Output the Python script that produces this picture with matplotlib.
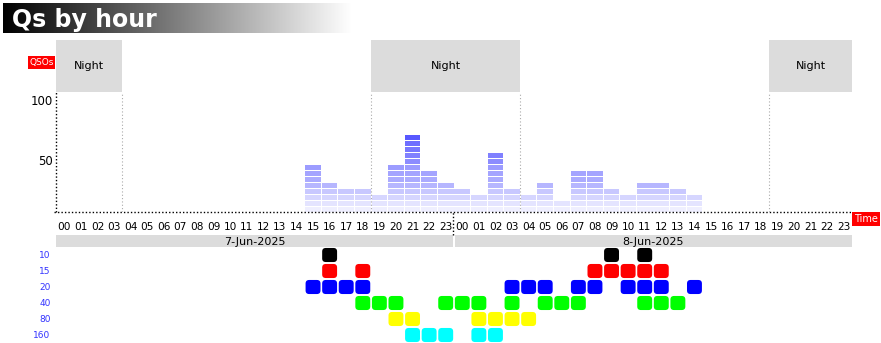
import numpy as np
import matplotlib
matplotlib.use("Agg")
import matplotlib.pyplot as plt
from matplotlib.patches import Rectangle, FancyBboxPatch
from matplotlib.transforms import ScaledTranslation

# QSOs per hour, 48 hours starting 7-Jun-2025 00:00 (counted in blocks of 5)
qsos = [0] * 15 + [40, 25, 20, 20, 15, 40, 65, 35, 25,
                   20, 15, 50, 20, 15, 25, 10, 35, 35, 20, 15, 25, 25, 20, 15] + [0] * 9
days = ["7-Jun-2025", "8-Jun-2025"]
nights = [(0, 4), (19, 28), (43, 48)]
bands = ["10", "15", "20", "40", "80", "160"]
band_colors = ["black", "red", "blue", "lime", "yellow", "cyan"]
# hours (0..47) in which each band was used
band_hours = {
    "10": [16, 33, 35],
    "15": [16, 18, 32, 33, 34, 35, 36],
    "20": [15, 16, 17, 18, 27, 28, 29, 31, 32, 34, 35, 36, 38],
    "40": [18, 19, 20, 23, 24, 25, 27, 29, 30, 31, 35, 36, 37],
    "80": [20, 21, 25, 26, 27, 28],
    "160": [21, 22, 23, 25, 26],
}
seg_colors = ["#efefff", "#e4e4ff", "#d6d6ff", "#c8c8ff", "#b6b6ff", "#ababff",
              "#a4a4ff", "#9c9cff", "#8c8cff", "#8080ff", "#7777ff", "#6e6eff", "#5858ff"]

W, H = 881, 343
fig = plt.figure(figsize=(W / 100, H / 100), dpi=100)


def box(x0, y0, x1, y1):
    # pixel box (top-left origin) -> figure fraction rect
    return [x0 / W, (H - y1) / H, (x1 - x0) / W, (y1 - y0) / H]


# title with gradient
tax = fig.add_axes(box(3, 3, 352, 33))
tax.imshow(np.linspace(0, 1, 256)[None, :], cmap="gray", aspect="auto", extent=[0, 1, 0, 1])
tax.text(0.025, 0.45, "Qs by hour", color="white", fontsize=17, fontweight="bold",
         va="center", ha="left", transform=tax.transAxes)
tax.axis("off")

# main bar chart, 1.2 px per QSO
ax = fig.add_axes(box(56, 40, 852, 212))
ax.set_xlim(0, 48)
ax.set_ylim(0, 172 / 1.2)
for s in ax.spines.values():
    s.set_visible(False)

for a, b in nights:
    ax.add_patch(Rectangle((a, 100), b - a, 172 / 1.2 - 100, color="#dcdcdc", lw=0))
    ax.text((a + b) / 2, 121.5, "Night", ha="center", va="center", fontsize=8)
    for xv in (a, b):
        if 0 < xv < 48:
            ax.plot([xv, xv], [0, 100], color="#aaaaaa", lw=0.8, ls=(0, (1, 2)))

for h, q in enumerate(qsos):
    for k in range(q // 5):
        ax.bar(h + 0.5, 5 - 0.85, bottom=5 * k, width=0.94, color=seg_colors[k], lw=0)

ax.plot([0, 0], [0, 100], color="black", lw=1, ls=(0, (1, 1.5)), clip_on=False)
ax.plot([-0.1, 48], [0, 0], color="black", lw=1, ls=(0, (1, 1.5)), clip_on=False)

ax.set_yticks([50, 100])
ax.set_yticklabels(["50", "100"], fontsize=8.5)
ax.tick_params(axis="y", length=0, pad=2)
for lab in ax.get_yticklabels():
    lab.set_transform(lab.get_transform() + ScaledTranslation(0, -8 / 100, fig.dpi_scale_trans))

ax.set_xticks(np.arange(48) + 0.5)
ax.set_xticklabels(["%02d" % (h % 24) for h in range(48)], fontsize=7.6)
ax.tick_params(axis="x", length=0, pad=7.5)

ax.text(-0.003, 124.6, "QSOs", transform=ax.get_yaxis_transform(), ha="right", va="center",
        fontsize=6.5, color="white", bbox=dict(facecolor="red", edgecolor="none", pad=1.2))
ax.text(1.003, -6, "Time", transform=ax.get_yaxis_transform(), ha="left", va="center",
        fontsize=7, color="white", bbox=dict(facecolor="red", edgecolor="none", pad=1.5))

# day separator in the hour label row
fig.add_artist(plt.Line2D([453 / W, 453 / W], [(H - 235) / H, (H - 212) / H],
                          color="black", lw=1, ls=(0, (1, 1.5))))

# date band
dax = fig.add_axes(box(56, 235, 852, 249))
dax.set_xlim(0, 48)
dax.set_ylim(0, 1)
dax.axis("off")
for i, d in enumerate(days):
    dax.add_patch(Rectangle((24 * i + (0.04 if i else 0), 0), 23.96, 1, color="#dcdcdc", lw=0))
    dax.text(24 * i + 12, 0.5, d, ha="center", va="center", fontsize=8)

# band activity grid
bax = fig.add_axes(box(56, 247, 852, 343))
bax.set_xlim(0, 48)
bax.set_ylim(6, 0)
for s in bax.spines.values():
    s.set_visible(False)
for r, (b, c) in enumerate(zip(bands, band_colors)):
    for h in band_hours[b]:
        bax.add_patch(FancyBboxPatch((h + 0.05, r + 0.06), 0.9, 0.88,
                                     boxstyle="round,pad=0,rounding_size=0.22",
                                     facecolor=c, edgecolor="none"))
bax.set_yticks(np.arange(6) + 0.5)
bax.set_yticklabels(bands, fontsize=6.5, color="#3333ff")
bax.tick_params(axis="y", length=0, pad=4)
bax.set_xticks([])

fig.savefig("out.png", dpi=100)
